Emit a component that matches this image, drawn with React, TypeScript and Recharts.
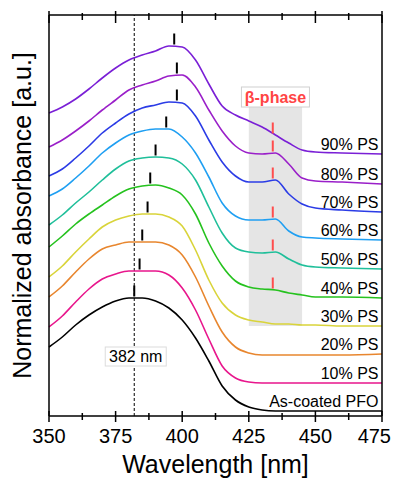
import React from "react";
import { LineChart, Line, XAxis, YAxis, ReferenceLine, ReferenceArea } from "recharts";

// wavelength grid (nm)
const wavelengths = [350, 355, 360, 365, 370, 375, 380, 385, 390, 395, 400, 405, 410, 415, 420, 425, 430, 435, 440, 445, 450, 460, 475];

// normalized absorbance, already vertically offset (a.u.)
const asCoated = [0.69, 0.79, 0.91, 1.01, 1.09, 1.15, 1.18, 1.18, 1.15, 1.08, 0.96, 0.78, 0.55, 0.30, 0.16, 0.09, 0.06, 0.05, 0.05, 0.05, 0.05, 0.05, 0.05];
const ps10 = [0.89, 1.0, 1.14, 1.27, 1.37, 1.42, 1.45, 1.45, 1.45, 1.41, 1.28, 1.06, 0.77, 0.5, 0.38, 0.34, 0.33, 0.33, 0.33, 0.33, 0.33, 0.33, 0.33];
const ps20 = [1.19, 1.3, 1.44, 1.57, 1.67, 1.71, 1.74, 1.74, 1.74, 1.71, 1.61, 1.39, 1.1, 0.84, 0.69, 0.63, 0.61, 0.61, 0.61, 0.61, 0.61, 0.61, 0.62];
const ps30 = [1.39, 1.5, 1.64, 1.77, 1.89, 1.96, 2.0, 2.02, 2.02, 1.99, 1.9, 1.66, 1.36, 1.13, 1.01, 0.96, 0.94, 0.92, 0.92, 0.91, 0.91, 0.9, 0.9];
const ps40 = [1.69, 1.8, 1.92, 2.02, 2.11, 2.2, 2.27, 2.3, 2.31, 2.28, 2.21, 2.02, 1.73, 1.5, 1.35, 1.29, 1.27, 1.26, 1.23, 1.21, 1.19, 1.19, 1.18];
const ps50 = [1.91, 2.01, 2.13, 2.24, 2.36, 2.47, 2.55, 2.58, 2.59, 2.58, 2.52, 2.36, 2.09, 1.83, 1.68, 1.64, 1.63, 1.64, 1.57, 1.51, 1.49, 1.48, 1.47];
const ps60 = [2.2, 2.27, 2.38, 2.5, 2.63, 2.73, 2.81, 2.85, 2.87, 2.87, 2.79, 2.63, 2.39, 2.13, 2.0, 1.96, 1.96, 1.97, 1.85, 1.79, 1.78, 1.77, 1.76];
const ps70 = [2.4, 2.47, 2.58, 2.7, 2.83, 2.93, 3.02, 3.08, 3.11, 3.14, 3.13, 3.0, 2.76, 2.54, 2.4, 2.34, 2.34, 2.36, 2.22, 2.12, 2.08, 2.06, 2.04];
const ps80 = [2.69, 2.76, 2.85, 2.95, 3.06, 3.16, 3.26, 3.31, 3.35, 3.4, 3.41, 3.29, 3.06, 2.85, 2.7, 2.63, 2.62, 2.63, 2.52, 2.38, 2.35, 2.34, 2.32];
const ps90 = [3.03, 3.09, 3.17, 3.27, 3.38, 3.48, 3.56, 3.61, 3.65, 3.7, 3.69, 3.56, 3.32, 3.1, 3.01, 2.95, 2.89, 2.81, 2.73, 2.66, 2.64, 2.63, 2.62];

const seriesNames = ["As-coated PFO", "10% PS", "20% PS", "30% PS", "40% PS", "50% PS", "60% PS", "70% PS", "80% PS", "90% PS"];
const seriesValues = [asCoated, ps10, ps20, ps30, ps40, ps50, ps60, ps70, ps80, ps90];
const seriesColors = ["#000000", "#e8168c", "#e8862e", "#d9d43a", "#25c21e", "#1fbf9a", "#1f9ff2", "#2b3ce6", "#9a1fc9", "#7a1fd6"];
// peak positions (nm) marked with black ticks
const peakWavelengths = [382, 384, 385, 387, 388, 390, 394, 398, 398, 397];
// beta-phase shoulder marks (series index), at 434 nm
const betaSeries = [4, 5, 6, 7, 8, 9];
const betaWavelength = 434;
const betaIndex = wavelengths.indexOf(435);

const majorTicks = [350, 375, 400, 425, 450, 475];
const allTicks = [350, 362.5, 375, 387.5, 400, 412.5, 425, 437.5, 450, 462.5, 475];

const data = wavelengths.map((wl, i) => {
  const row: any = { wl };
  seriesValues.forEach((vals, k) => {
    row["s" + k] = vals[i];
  });
  return row;
});

const font = "'Liberation Sans', Arial, sans-serif";

const BottomTick = (props: any) => {
  const { x, y, payload } = props;
  const major = majorTicks.includes(payload.value);
  const isLast = payload.value === 475;
  return (
    <g>
      <line x1={x} x2={x} y1={y - (major ? 5 : 3)} y2={y + (major ? 6 : 4)} stroke="#000" strokeWidth={1.5} />
      {major && (
        <text
          x={isLast ? x + 9 : x}
          y={y + 27}
          textAnchor={isLast ? "end" : "middle"}
          fontSize={20}
          fill="#000"
          fontFamily={font}
        >
          {payload.value}
        </text>
      )}
    </g>
  );
};

const TopTick = (props: any) => {
  const { x, y, payload } = props;
  const major = majorTicks.includes(payload.value);
  return <line x1={x} x2={x} y1={y - (major ? 4 : 2)} y2={y + (major ? 8 : 5)} stroke="#000" strokeWidth={1.5} />;
};

const App = () => {
  const last = wavelengths.length - 1;
  return (
    <div style={{ fontFamily: font }}>
      <style>{"html { overflow: hidden; } .recharts-surface, .recharts-wrapper { overflow: visible !important; }"}</style>
      <LineChart width={392} height={472} data={data} margin={{ top: 6, right: 17, left: 40, bottom: 24 }}>
        <XAxis
          dataKey="wl"
          type="number"
          domain={[350, 475]}
          ticks={allTicks}
          interval={0}
          tickLine={false}
          tickSize={0}
          tickMargin={0}
          height={40}
          tick={<BottomTick />}
          axisLine={{ stroke: "#000", strokeWidth: 1.5 }}
          label={{
            content: (p: any) => {
              const vb = p.viewBox;
              return (
                <text x={vb.x + vb.width / 2} y={vb.y + 57} textAnchor="middle" fontSize={25} fill="#000" fontFamily={font}>
                  Wavelength [nm]
                </text>
              );
            },
          }}
        />
        <XAxis
          xAxisId="top"
          orientation="top"
          dataKey="wl"
          type="number"
          domain={[350, 475]}
          ticks={allTicks}
          interval={0}
          tickLine={false}
          tickSize={0}
          tickMargin={0}
          height={1}
          tick={<TopTick />}
          axisLine={{ stroke: "#000", strokeWidth: 1.5 }}
        />
        <YAxis
          type="number"
          domain={[0, 4.01]}
          tick={false}
          tickLine={false}
          width={1}
          axisLine={{ stroke: "#000", strokeWidth: 1.5 }}
          label={{
            content: (p: any) => {
              const vb = p.viewBox;
              const cx = vb.x - 26;
              const cy = vb.y + vb.height / 2;
              return (
                <text
                  x={cx}
                  y={cy}
                  transform={`rotate(-90 ${cx} ${cy})`}
                  textAnchor="middle"
                  dominantBaseline="central"
                  fontSize={25}
                  fill="#000"
                  fontFamily={font}
                >
                  Normalized absorbance [a.u.]
                </text>
              );
            },
          }}
        />
        <YAxis
          yAxisId="r"
          orientation="right"
          type="number"
          domain={[0, 4.01]}
          tick={false}
          tickLine={false}
          width={1}
          axisLine={{ stroke: "#000", strokeWidth: 1.5 }}
        />
        <ReferenceArea
          x1={425}
          x2={445}
          y1={0.9}
          y2={3.1}
          fill="#e5e5e5"
          fillOpacity={1}
          stroke="none"
          label={{
            content: (p: any) => {
              const vb = p.viewBox;
              const cx = vb.x + vb.width / 2;
              return (
                <g>
                  <rect x={cx - 34} y={vb.y - 19} width={68} height={20} fill="#fff" stroke="#d0d0d0" strokeWidth={1} />
                  <text x={cx} y={vb.y - 3} textAnchor="middle" fontSize={16} fontWeight="bold" fill="#ff4545" fontFamily={font}>
                    β-phase
                  </text>
                </g>
              );
            },
          }}
        />
        <ReferenceLine
          x={382}
          stroke="#000"
          strokeWidth={1}
          strokeDasharray="3 2"
          label={{
            content: (p: any) => {
              const vb = p.viewBox;
              const cy = vb.y + 341.5;
              return (
                <g>
                  <rect x={vb.x - 29} y={cy - 9.5} width={61} height={19} fill="#fff" stroke="#dcdcdc" strokeWidth={1} />
                  <text x={vb.x + 1.5} y={cy + 5.5} textAnchor="middle" fontSize={16} fill="#000" fontFamily={font}>
                    382 nm
                  </text>
                </g>
              );
            },
          }}
        />
        {seriesValues.map((vals, k) => (
          <Line
            key={k}
            type="monotone"
            dataKey={"s" + k}
            stroke={seriesColors[k]}
            strokeWidth={1.6}
            dot={false}
            activeDot={false}
            isAnimationActive={false}
            label={(p: any) =>
              p.index === last ? (
                <text x={p.x - 3.5} y={p.y - 4} textAnchor="end" fontSize={16} fill="#000" fontFamily={font}>
                  {seriesNames[k]}
                </text>
              ) : (
                <g />
              )
            }
          />
        ))}
        {seriesValues.map((vals, k) => {
          const peak = Math.max(...vals);
          return (
            <ReferenceLine
              key={"pk" + k}
              segment={[
                { x: peakWavelengths[k], y: peak + 0.015 },
                { x: peakWavelengths[k], y: peak + 0.125 },
              ]}
              stroke="#000"
              strokeWidth={2}
            />
          );
        })}
        {betaSeries.map((k) => {
          const v = seriesValues[k][betaIndex];
          return (
            <ReferenceLine
              key={"b" + k}
              segment={[
                { x: betaWavelength, y: v + 0.015 },
                { x: betaWavelength, y: v + 0.125 },
              ]}
              stroke="#ff4d4d"
              strokeWidth={2}
            />
          );
        })}
      </LineChart>
    </div>
  );
};

export default App;
